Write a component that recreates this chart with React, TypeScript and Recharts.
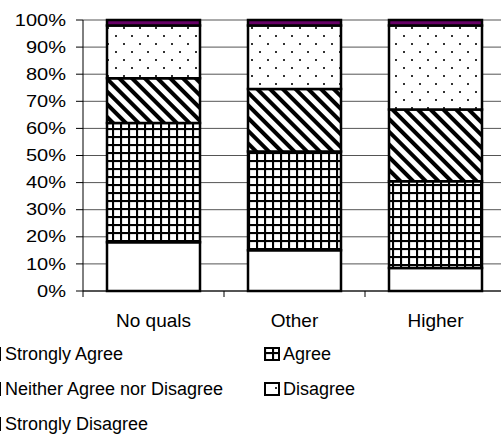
import React from "react"
import { BarChart, Bar, XAxis, YAxis, CartesianGrid } from "recharts"

const categories = ["No quals", "Other", "Higher"]
const stronglyAgree = [18, 15, 8.5]
const agree = [44, 36.5, 32]
const neither = [16.5, 23, 26.5]
const disagree = [19.5, 23.5, 31]
const stronglyDisagree = [2, 2, 2]
const yTicks = [0, 10, 20, 30, 40, 50, 60, 70, 80, 90, 100]

const series = [
  { key: "stronglyAgree", name: "Strongly Agree", values: stronglyAgree, fill: "#ffffff" },
  { key: "agree", name: "Agree", values: agree, fill: "url(#pGrid)" },
  { key: "neither", name: "Neither Agree nor Disagree", values: neither, fill: "url(#pStripe)" },
  { key: "disagree", name: "Disagree", values: disagree, fill: "url(#pDots)" },
  { key: "stronglyDisagree", name: "Strongly Disagree", values: stronglyDisagree, fill: "#660066" },
]

const data = categories.map((name, i) => {
  const row: Record<string, string | number> = { name }
  series.forEach((s) => {
    row[s.key] = s.values[i]
  })
  return row
})

const FONT = "'Liberation Sans', Arial, sans-serif"
const W = 510
const H = 434
const margin = { top: 20, right: 4, left: 0, bottom: 93 }
const Y_W = 83
const X_H = 50
const PLOT_W = W - margin.left - margin.right - Y_W
const AXIS_Y = H - margin.bottom - X_H

const Patterns = () => (
  <svg width={0} height={0} style={{ position: "absolute" }}>
    <defs>
      <pattern id="pGrid" width={8} height={8} patternUnits="userSpaceOnUse">
        <rect width={8} height={8} fill="#fff" />
        <line x1={1} y1={0} x2={1} y2={8} stroke="#000" strokeWidth={2.2} />
        <line x1={0} y1={1} x2={8} y2={1} stroke="#000" strokeWidth={2.2} />
      </pattern>
      <pattern id="pStripe" width={9} height={9} patternUnits="userSpaceOnUse" patternTransform="rotate(-45)">
        <rect width={9} height={9} fill="#fff" />
        <line x1={2} y1={0} x2={2} y2={9} stroke="#000" strokeWidth={4} />
      </pattern>
      <pattern id="pDots" width={16} height={16} patternUnits="userSpaceOnUse">
        <rect width={16} height={16} fill="#fff" />
        <rect x={3} y={3} width={2} height={2} fill="#333" />
        <rect x={11} y={11} width={2} height={2} fill="#333" />
      </pattern>
    </defs>
  </svg>
)

const YTick = (props: any) => {
  const { x, y, payload } = props
  return (
    <text
      transform={`translate(${x},${y}) scale(1.25,1)`}
      textAnchor="end"
      dy="0.355em"
      fontSize={16}
      fontFamily={FONT}
      fill="#000"
    >
      {payload.value}%
    </text>
  )
}

const XTick = (props: any) => {
  const { x, payload } = props
  const half = PLOT_W / categories.length / 2
  return (
    <g>
      <line x1={x - half} x2={x - half} y1={AXIS_Y} y2={AXIS_Y + 6} stroke="#000" strokeWidth={1} />
      <text x={x} y={AXIS_Y + 36} textAnchor="middle" fontSize={19} fontFamily={FONT} fill="#000">
        {payload.value}
      </text>
    </g>
  )
}

const legendCols = [
  { icon: -14, text: 5 },
  { icon: 265, text: 283 },
]
const legendRows = [360, 395, 430]

const ChartLegend = () => (
  <svg width={501} height={434} style={{ position: "absolute", left: 0, top: 0, pointerEvents: "none" }}>
    {series.map((s, i) => {
      const col = legendCols[i % 2]
      const base = legendRows[Math.floor(i / 2)]
      return (
        <g key={s.key}>
          <rect x={col.icon} y={base - 12} width={14} height={12} fill={s.fill} stroke="#000" strokeWidth={2} />
          <text x={col.text} y={base} fontSize={18} fontFamily={FONT} fill="#000">
            {s.name}
          </text>
        </g>
      )
    })}
  </svg>
)

export default function App() {
  return (
    <div style={{ position: "absolute", left: 0, top: 0, width: 501, height: 434, overflow: "hidden", background: "#fff" }}>
      <Patterns />
      <BarChart width={W} height={H} data={data} margin={margin} barSize={93}>
        <CartesianGrid horizontal vertical={false} stroke="#555" />
        <XAxis
          dataKey="name"
          height={X_H}
          axisLine={{ stroke: "#000" }}
          tickLine={false}
          tick={<XTick />}
          interval={0}
        />
        <YAxis
          width={Y_W}
          domain={[0, 100]}
          ticks={yTicks}
          interval={0}
          axisLine={{ stroke: "#000" }}
          tickLine={{ stroke: "#000" }}
          tickSize={7}
          tickMargin={10}
          tick={<YTick />}
        />
        {series.map((s) => (
          <Bar
            key={s.key}
            dataKey={s.key}
            name={s.name}
            stackId="a"
            fill={s.fill}
            stroke="#000"
            strokeWidth={2.5}
            isAnimationActive={false}
          />
        ))}
      </BarChart>
      <ChartLegend />
    </div>
  )
}
